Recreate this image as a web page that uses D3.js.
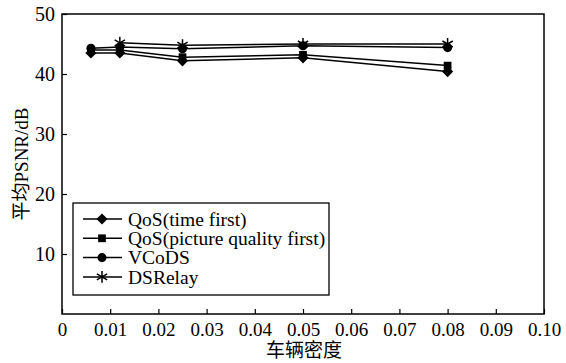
<!DOCTYPE html>
<head>
<meta charset='utf-8'>
<script src='https://d3js.org/d3.v7.min.js'></script>
<style>
    html, body { margin: 0; padding: 0; background: white; }
</style>
</head>
<body>
<svg id='chart' width='566' height='363'></svg>
<script>
    // vehicle density on x, avg PSNR on y (null = no point)
    var density = [0.006, 0.012, 0.025, 0.05, 0.08];
    var qosTime = [43.5, 43.5, 42.2, 42.7, 40.4];
    var qosPicture = [44.0, 44.0, 42.8, 43.2, 41.4];
    var vcods = [44.3, 44.5, 44.2, 44.7, 44.4];
    var dsrelay = [null, 45.2, 44.8, 45.0, 45.0];
    var xTicks = [0, 0.01, 0.02, 0.03, 0.04, 0.05, 0.06, 0.07, 0.08, 0.09, 0.10];
    var xTickLabels = ['0', '0.01', '0.02', '0.03', '0.04', '0.05', '0.06', '0.07', '0.08', '0.09', '0.10'];
    var yTicks = [10, 20, 30, 40, 50];
    var seriesNames = ['QoS(time first)', 'QoS(picture quality first)', 'VCoDS', 'DSRelay'];
    var seriesMarks = ['diamond', 'square', 'circle', 'star'];

    var font = "'Liberation Serif', 'Noto Sans CJK SC', serif";

    var series = [qosTime, qosPicture, vcods, dsrelay].map(function(vals, i) {
        var pts = [];
        vals.forEach(function(v, j) { if (v != null) pts.push([density[j], v]); });
        return { name: seriesNames[i], mark: seriesMarks[i], points: pts };
    });

    var svg = d3.select('#chart');
    var plotL = 62, plotR = 544, plotT = 14, plotB = 314;

    var x = d3.scaleLinear().domain([0, 0.10]).range([plotL, plotR]);
    var y = d3.scaleLinear().domain([0, 50]).range([plotB, plotT]);

    // frame
    svg.append('rect')
        .attr('x', plotL).attr('y', plotT)
        .attr('width', plotR - plotL).attr('height', plotB - plotT)
        .attr('fill', 'none').attr('stroke', 'black').attr('stroke-width', 1.5);

    // x axis, ticks point inward
    var xAxis = d3.axisBottom(x).tickValues(xTicks).tickSizeInner(-5).tickSizeOuter(0)
        .tickFormat(function(d, i) { return xTickLabels[i]; }).tickPadding(9);
    var gx = svg.append('g').attr('transform', 'translate(0,' + plotB + ')').call(xAxis);
    gx.select('.domain').remove();
    gx.selectAll('line').attr('stroke-width', 1.2);
    gx.selectAll('text').style('font-size', '19px').style('font-family', font).attr('fill', 'black');

    var yAxis = d3.axisLeft(y).tickValues(yTicks).tickSizeInner(-5).tickSizeOuter(0).tickPadding(7);
    var gy = svg.append('g').attr('transform', 'translate(' + plotL + ',0)').call(yAxis);
    gy.select('.domain').remove();
    gy.selectAll('line').attr('stroke-width', 1.2);
    gy.selectAll('text').style('font-size', '20px').style('font-family', font).attr('fill', 'black');

    svg.append('text')
        .attr('x', (plotL + plotR) / 2 + 1).attr('y', 357)
        .attr('text-anchor', 'middle')
        .style('font-size', '19px').style('font-family', font)
        .text('车辆密度');

    svg.append('text')
        .attr('transform', 'translate(28,' + (plotT + plotB) / 2 + ') rotate(-90)')
        .attr('text-anchor', 'middle')
        .style('font-size', '19px').style('font-family', font)
        .text('平均PSNR/dB');

    var line = d3.line().x(function(d) { return x(d[0]); }).y(function(d) { return y(d[1]); });

    var symbols = {
        diamond: d3.symbol().type(d3.symbolDiamond2).size(80),
        square: d3.symbol().type(d3.symbolSquare).size(60),
        circle: d3.symbol().type(d3.symbolCircle).size(65),
        star: d3.symbol().type(d3.symbolAsterisk).size(100)
    };

    function drawMark(g, mark) {
        var p = g.append('path').attr('d', symbols[mark]());
        if (mark == 'star') {
            p.attr('fill', 'none').attr('stroke', 'black').attr('stroke-width', 1.5);
        } else {
            p.attr('fill', 'black');
        }
    }

    series.forEach(function(s) {
        svg.append('path')
            .datum(s.points)
            .attr('d', line)
            .attr('fill', 'none')
            .attr('stroke', 'black')
            .attr('stroke-width', 1.5);
    });

    series.forEach(function(s) {
        s.points.forEach(function(p) {
            var g = svg.append('g').attr('transform', 'translate(' + x(p[0]) + ',' + y(p[1]) + ')');
            drawMark(g, s.mark);
        });
    });

    // legend
    var lg = svg.append('g');
    lg.append('rect')
        .attr('x', 73).attr('y', 203).attr('width', 256).attr('height', 92)
        .attr('fill', 'white').attr('stroke', 'black').attr('stroke-width', 1.3);

    series.forEach(function(s, i) {
        var ly = 219 + i * 19.3;
        lg.append('line')
            .attr('x1', 83).attr('x2', 122).attr('y1', ly).attr('y2', ly)
            .attr('stroke', 'black').attr('stroke-width', 1.5);
        var g = lg.append('g').attr('transform', 'translate(102,' + ly + ')');
        drawMark(g, s.mark);
        lg.append('text')
            .attr('x', 128).attr('y', ly).attr('dy', '0.35em')
            .style('font-size', '19.5px').style('font-family', font)
            .text(s.name);
    });
</script>
</body>
